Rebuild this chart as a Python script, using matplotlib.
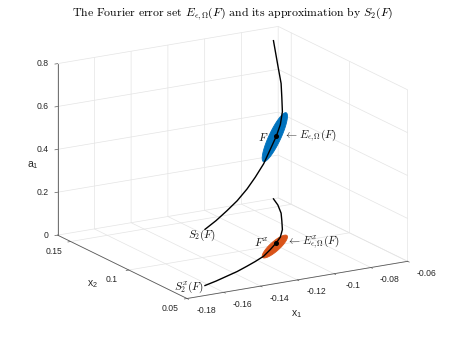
import numpy as np
import matplotlib
matplotlib.use("Agg")
import matplotlib.pyplot as plt
from matplotlib.transforms import offset_copy
from mpl_toolkits.mplot3d.art3d import Poly3DCollection

# ---------------- data ----------------
x1_curve = [-0.0627, -0.0660, -0.0714, -0.0774, -0.0845, -0.0915, -0.0979, -0.1058,
            -0.1140, -0.1218, -0.1290, -0.1374, -0.1454, -0.1538, -0.1620]
x2_curve = [0.1610, 0.1520, 0.1407, 0.1306, 0.1189, 0.1096, 0.1030, 0.0956,
            0.0884, 0.0833, 0.0790, 0.0742, 0.0704, 0.0664, 0.0630]
a1_curve = [0.738, 0.650, 0.605, 0.575, 0.550, 0.525, 0.497, 0.468,
            0.431, 0.393, 0.360, 0.330, 0.305, 0.282, 0.262]
F_index = 6

ell_center = [-0.1013, 0.0993]
ell_major = [0.0139, 0.0125]
ell_minor = [0.0020, -0.0022]
blue_a1_center = 0.510
blue_a1_slope = 0.061

x1_ticks = [-0.18, -0.16, -0.14, -0.12, -0.10, -0.08, -0.06]
x1_ticklabels = ['-0.18', '-0.16', '-0.14', '-0.12', '-0.1', '-0.08', '-0.06']
x2_ticks = [0.05, 0.10, 0.15]
x2_ticklabels = ['0.05', '0.1', '0.15']
a1_ticks = [0, 0.2, 0.4, 0.6, 0.8]
a1_ticklabels = ['0', '0.2', '0.4', '0.6', '0.8']
x1_lim = (-0.18, -0.06)
x2_lim = (0.05, 0.1612)
a1_lim = (0.0, 0.8)

BLUE = '#0072BD'
ORANGE = '#D95319'
GRID = '#e4e4e4'
AXC = '#5a5a5a'
TXT = '#262626'

plt.rcParams['font.family'] = ['Liberation Sans', 'DejaVu Sans']
plt.rcParams['grid.color'] = GRID
plt.rcParams['grid.linewidth'] = 0.5
plt.rcParams['axes.unicode_minus'] = False

W, H = 449, 337
fig = plt.figure(figsize=(W / 100, H / 100), dpi=100)
S = 320
ax = fig.add_axes([60 / W, 10 / H, S / W, S / H], projection='3d', proj_type='ortho')
ax.computed_zorder = False

# ellipses (error sets)
t = np.linspace(0, 2 * np.pi, 120)
ex = ell_center[0] + ell_major[0] * np.cos(t) + ell_minor[0] * np.sin(t)
ey = ell_center[1] + ell_major[1] * np.cos(t) + ell_minor[1] * np.sin(t)
ez = blue_a1_center + blue_a1_slope * np.cos(t)
ax.add_collection3d(Poly3DCollection([list(zip(ex, ey, np.zeros_like(ex)))],
                                     facecolor=ORANGE, edgecolor=ORANGE, linewidth=0.6, zorder=1))
ax.add_collection3d(Poly3DCollection([list(zip(ex, ey, ez))],
                                     facecolor=BLUE, edgecolor=BLUE, linewidth=0.6, zorder=1))

# curves
ax.plot(x1_curve, x2_curve, a1_curve, color='k', lw=1.0, zorder=3)
ax.plot(x1_curve, x2_curve, np.zeros(len(x1_curve)), color='k', lw=1.0, zorder=3)
Fx, Fy, Fz = x1_curve[F_index], x2_curve[F_index], a1_curve[F_index]
ax.plot([Fx], [Fy], [Fz], 'o', color='k', ms=2.6, zorder=4)
ax.plot([Fx], [Fy], [0], 'o', color='k', ms=2.6, zorder=4)

ax.set_xlim(*x1_lim)
ax.set_ylim(*x2_lim)
ax.set_zlim(*a1_lim)
ax.set_box_aspect((1, 1, 0.7))
ax.view_init(elev=16.7, azim=-120.4)

ax.set_xticks(x1_ticks)
ax.set_yticks(x2_ticks)
ax.set_zticks(a1_ticks)
ax.tick_params(colors=AXC)
ax.tick_params(axis='x', labelbottom=False)
ax.tick_params(axis='y', labelleft=False)
ax.tick_params(axis='z', labelleft=False)
for axis in (ax.xaxis, ax.yaxis, ax.zaxis):
    axis.set_pane_color((1, 1, 1, 0))
    axis.pane.set_edgecolor(GRID)
    axis.line.set_color(AXC)
    axis.line.set_linewidth(0.6)
    axis._axinfo['tick']['inward_factor'] = 0.15
    axis._axinfo['tick']['outward_factor'] = 0.0
    axis._axinfo['tick']['linewidth'] = {True: 0.5, False: 0.5}
    axis.label.set_visible(False)
    axis.offsetText.set_visible(False)

# ---- fit the axes box onto the reference geometry ----
fig.canvas.draw()
M = ax.get_proj()


def project(x, y, z):
    v = M @ np.array([x, y, z, 1.0])
    return v[0] / v[3], v[1] / v[3]


corners = [(x1_lim[0], x2_lim[1], a1_lim[0]),
           (x1_lim[0], x2_lim[0], a1_lim[0]),
           (x1_lim[1], x2_lim[0], a1_lim[0]),
           (x1_lim[1], x2_lim[1], a1_lim[1]),
           (x1_lim[0], x2_lim[1], a1_lim[1])]
target_px = np.array([[58, 234], [187, 299], [407, 263], [278, 26], [58, 63]], float)
target = np.column_stack([target_px[:, 0], H - target_px[:, 1]])
cur = ax.transData.transform(np.array([project(*c) for c in corners]))
pm, tm = cur.mean(0), target.mean(0)
k = ((cur - pm) * (target - tm)).sum() / ((cur - pm) ** 2).sum()
off = tm - k * pm
pos = ax.get_position()
x0, y0, w, h = pos.x0 * W, pos.y0 * H, pos.width * W, pos.height * H
ax.set_position([(k * x0 + off[0]) / W, (k * y0 + off[1]) / H, k * w / W, k * h / H])
fig.canvas.draw()
M = ax.get_proj()


def text_at(x, y, z, s, dx, dy, ha, va='center', size=8, math=True, color='#1a1a1a'):
    px, py = project(x, y, z)
    tr = offset_copy(ax.transData, fig=fig, x=dx, y=dy, units='dots')
    kw = dict(math_fontfamily='cm') if math else {}
    ax.text2D(px, py, s, transform=tr, ha=ha, va=va, fontsize=size,
              color=color, zorder=5, **kw)


# tick labels (MATLAB-like placement)
for v, s in zip(x1_ticks, x1_ticklabels):
    text_at(v, x2_lim[0], a1_lim[0], s, 19, -12, 'center', size=6.2, math=False, color=TXT)
for v, s in zip(x2_ticks, x2_ticklabels):
    text_at(x1_lim[0], v, a1_lim[0], s, -17, -9.5, 'center', size=6.2, math=False, color=TXT)
for v, s in zip(a1_ticks, a1_ticklabels):
    text_at(x1_lim[0], x2_lim[1], v, s, -9, 0, 'right', size=6.2, math=False, color=TXT)

# labels on the curves
text_at(Fx, Fy, Fz, r'$F$', -8, -1, 'right')
text_at(Fx, Fy, Fz, r'$\leftarrow E_{\epsilon,\Omega}(F)$', 8, 0, 'left')
text_at(Fx, Fy, 0, r'$F^x$', -8, 0, 'right')
text_at(Fx, Fy, 0, r'$\leftarrow E^x_{\epsilon,\Omega}(F)$', 11, 0, 'left')
text_at(x1_curve[-1], x2_curve[-1], a1_curve[-1], r'$S_2(F)$', -3, -6, 'center')
text_at(x1_curve[-1], x2_curve[-1], 0, r'$S_2^x(F)$', -1, -2, 'right')

# title and axis labels
fig.text(232.5 / W, 1 - 14 / H,
         r'The Fourier error set $E_{\epsilon,\Omega}(F)$ and its approximation by $S_2(F)$',
         ha='center', va='center', fontsize=8.5, family='cmr10', math_fontfamily='cm')
fig.text(297 / W, 1 - 314 / H, r'$\mathregular{x_1}$', ha='center', va='center', fontsize=7.5, color=TXT)
fig.text(92 / W, 1 - 284 / H, r'$\mathregular{x_2}$', ha='center', va='center', fontsize=7.5, color=TXT)
fig.text(33 / W, 1 - 165 / H, r'$\mathregular{a_1}$', ha='center', va='center', fontsize=7.5, color=TXT)

fig.savefig('out.png', dpi=100)
